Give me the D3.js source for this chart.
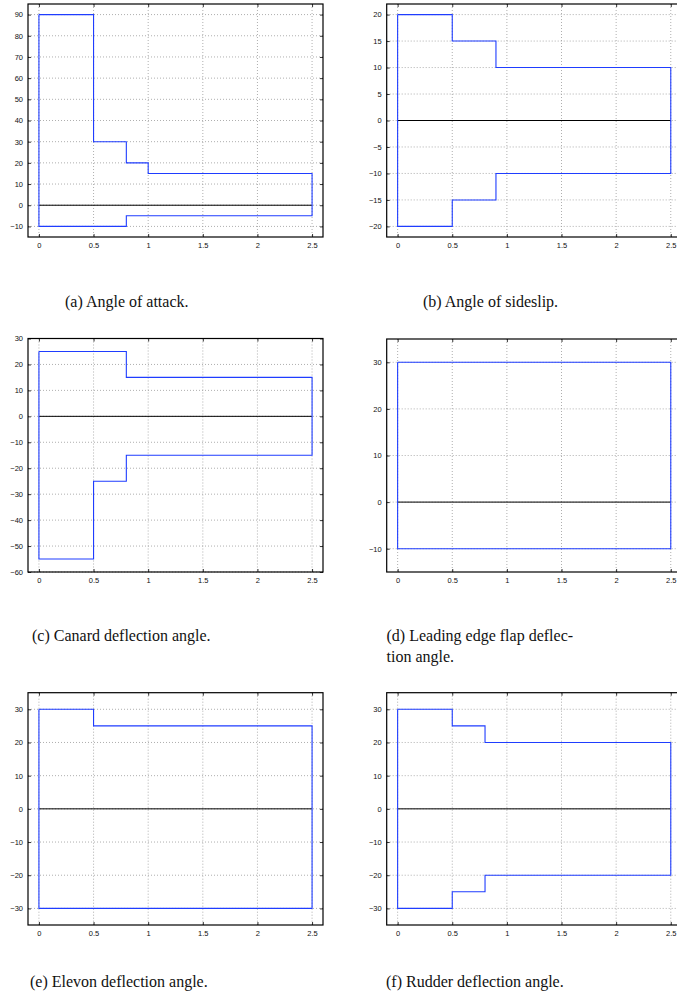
<!DOCTYPE html>
<html>
<head>
<meta charset="utf-8">
<script src="https://cdn.jsdelivr.net/npm/d3@7"></script>
<style>
  html, body { margin: 0; padding: 0; background: #fff; }
  svg { display: block; }
  .tick text { font-family: "Liberation Sans", Arial, sans-serif; font-size: 7.5px; fill: #111; }
  .caption { font-family: "Liberation Serif", "DejaVu Serif", serif; font-size: 16px; fill: #111; }
</style>
</head>
<body>
<script>
// ---- data: step boundaries (time) and upper/lower limits per panel ----
var xTicks = [0, 0.5, 1, 1.5, 2, 2.5];

var alphaBreaks = [0, 0.5, 0.8, 1.0, 2.5];
var alphaUpper  = [90, 30, 20, 15];
var alphaLower  = [-10, -10, -5, -5];
var alphaTicks  = [-10, 0, 10, 20, 30, 40, 50, 60, 70, 80, 90];

var betaBreaks = [0, 0.5, 0.9, 2.5];
var betaUpper  = [20, 15, 10];
var betaLower  = [-20, -15, -10];
var betaTicks  = [-20, -15, -10, -5, 0, 5, 10, 15, 20];

var canardBreaks = [0, 0.5, 0.8, 2.5];
var canardUpper  = [25, 25, 15];
var canardLower  = [-55, -25, -15];
var canardTicks  = [-60, -50, -40, -30, -20, -10, 0, 10, 20, 30];

var flapBreaks = [0, 2.5];
var flapUpper  = [30];
var flapLower  = [-10];
var flapTicks  = [-10, 0, 10, 20, 30];

var elevonBreaks = [0, 0.5, 2.5];
var elevonUpper  = [30, 25];
var elevonLower  = [-30, -30];
var elevonTicks  = [-30, -20, -10, 0, 10, 20, 30];

var rudderBreaks = [0, 0.5, 0.8, 2.5];
var rudderUpper  = [30, 25, 20];
var rudderLower  = [-30, -25, -20];
var rudderTicks  = [-30, -20, -10, 0, 10, 20, 30];

var W = 677, H = 1006;

var svg = d3.select("body").append("svg")
    .attr("width", W)
    .attr("height", H);

// step function -> list of [x, y] points
function steps(breaks, vals) {
    var pts = [];
    for (var i = 0; i < vals.length; i++) {
        pts.push([breaks[i], vals[i]]);
        pts.push([breaks[i + 1], vals[i]]);
    }
    return pts;
}

function fmt(v) {
    return String(v).replace("-", "\u2212");
}

function drawPanel(p) {
    var x = d3.scaleLinear().domain([-0.1, 2.6]).range([p.left, p.right]);
    var y = d3.scaleLinear().domain(p.ydom).range([p.bottom, p.top]);
    var g = svg.append("g");
    var w = p.right - p.left, h = p.bottom - p.top;

    // dotted grid
    g.append("g").selectAll("line").data(xTicks).enter().append("line")
        .attr("x1", function(d) { return x(d); }).attr("x2", function(d) { return x(d); })
        .attr("y1", p.top).attr("y2", p.bottom)
        .attr("stroke", "#9a9a9a").attr("stroke-width", 0.8)
        .attr("stroke-dasharray", "1,2");
    g.append("g").selectAll("line").data(p.yticks).enter().append("line")
        .attr("y1", function(d) { return y(d); }).attr("y2", function(d) { return y(d); })
        .attr("x1", p.left).attr("x2", p.right)
        .attr("stroke", "#9a9a9a").attr("stroke-width", 0.8)
        .attr("stroke-dasharray", "1,2");

    // zero line
    g.append("line")
        .attr("x1", x(0)).attr("x2", x(2.5))
        .attr("y1", y(0)).attr("y2", y(0))
        .attr("stroke", "#000").attr("stroke-width", 1);

    // envelope: upper steps, right edge, lower steps reversed, left edge
    var up = steps(p.breaks, p.upper);
    var lo = steps(p.breaks, p.lower).reverse();
    var pts = up.concat(lo);
    pts.push(up[0]);
    var line = d3.line()
        .x(function(d) { return x(d[0]); })
        .y(function(d) { return y(d[1]); });
    g.append("path")
        .attr("d", line(pts))
        .attr("fill", "none")
        .attr("stroke", "#1f3dff")
        .attr("stroke-width", 1.1);

    // axes with inward ticks, box on
    var tl = 3;
    g.append("g").attr("transform", "translate(0," + p.bottom + ")")
        .call(d3.axisBottom(x).tickValues(xTicks).tickSizeInner(-tl).tickSizeOuter(0).tickPadding(6).tickFormat(fmt))
        .call(function(a) { a.select(".domain").remove(); });
    g.append("g").attr("transform", "translate(0," + p.top + ")")
        .call(d3.axisTop(x).tickValues(xTicks).tickSizeInner(-tl).tickSizeOuter(0).tickFormat(""))
        .call(function(a) { a.select(".domain").remove(); });
    g.append("g").attr("transform", "translate(" + p.left + ",0)")
        .call(d3.axisLeft(y).tickValues(p.yticks).tickSizeInner(-tl).tickSizeOuter(0).tickPadding(5).tickFormat(fmt))
        .call(function(a) { a.select(".domain").remove(); });
    g.append("g").attr("transform", "translate(" + p.right + ",0)")
        .call(d3.axisRight(y).tickValues(p.yticks).tickSizeInner(-tl).tickSizeOuter(0).tickFormat(""))
        .call(function(a) { a.select(".domain").remove(); });
    g.selectAll(".tick line").attr("stroke", "#000").attr("stroke-width", 0.8);

    g.append("rect")
        .attr("x", p.left).attr("y", p.top)
        .attr("width", w).attr("height", h)
        .attr("fill", "none").attr("stroke", "#000").attr("stroke-width", 1.2);

    // caption
    var cap = svg.append("text").attr("class", "caption")
        .attr("x", p.capX).attr("y", p.capY);
    p.caption.forEach(function(t, i) {
        cap.append("tspan").attr("x", p.capX).attr("dy", i === 0 ? 0 : 21).text(t);
    });
}

var leftCol = { left: 28, right: 323 };
var rightCol = { left: 386.7, right: 681.7 };

drawPanel({ left: leftCol.left, right: leftCol.right, top: 4, bottom: 237,
    ydom: [-15, 95], yticks: alphaTicks, breaks: alphaBreaks, upper: alphaUpper, lower: alphaLower,
    caption: ["(a) Angle of attack."], capX: 65, capY: 306.5 });
drawPanel({ left: rightCol.left, right: rightCol.right, top: 4, bottom: 237,
    ydom: [-22, 22], yticks: betaTicks, breaks: betaBreaks, upper: betaUpper, lower: betaLower,
    caption: ["(b) Angle of sideslip."], capX: 423, capY: 306.5 });
drawPanel({ left: leftCol.left, right: leftCol.right, top: 338.5, bottom: 572,
    ydom: [-60, 30], yticks: canardTicks, breaks: canardBreaks, upper: canardUpper, lower: canardLower,
    caption: ["(c) Canard deflection angle."], capX: 32, capY: 641 });
drawPanel({ left: rightCol.left, right: rightCol.right, top: 339, bottom: 572,
    ydom: [-15, 35], yticks: flapTicks, breaks: flapBreaks, upper: flapUpper, lower: flapLower,
    caption: ["(d) Leading edge flap deflec-", "tion angle."], capX: 386.5, capY: 641 });
drawPanel({ left: leftCol.left, right: leftCol.right, top: 692.7, bottom: 925,
    ydom: [-35, 35], yticks: elevonTicks, breaks: elevonBreaks, upper: elevonUpper, lower: elevonLower,
    caption: ["(e) Elevon deflection angle."], capX: 30, capY: 986.5 });
drawPanel({ left: rightCol.left, right: rightCol.right, top: 692.7, bottom: 925,
    ydom: [-35, 35], yticks: rudderTicks, breaks: rudderBreaks, upper: rudderUpper, lower: rudderLower,
    caption: ["(f) Rudder deflection angle."], capX: 386, capY: 986.5 });
</script>
</body>
</html>
